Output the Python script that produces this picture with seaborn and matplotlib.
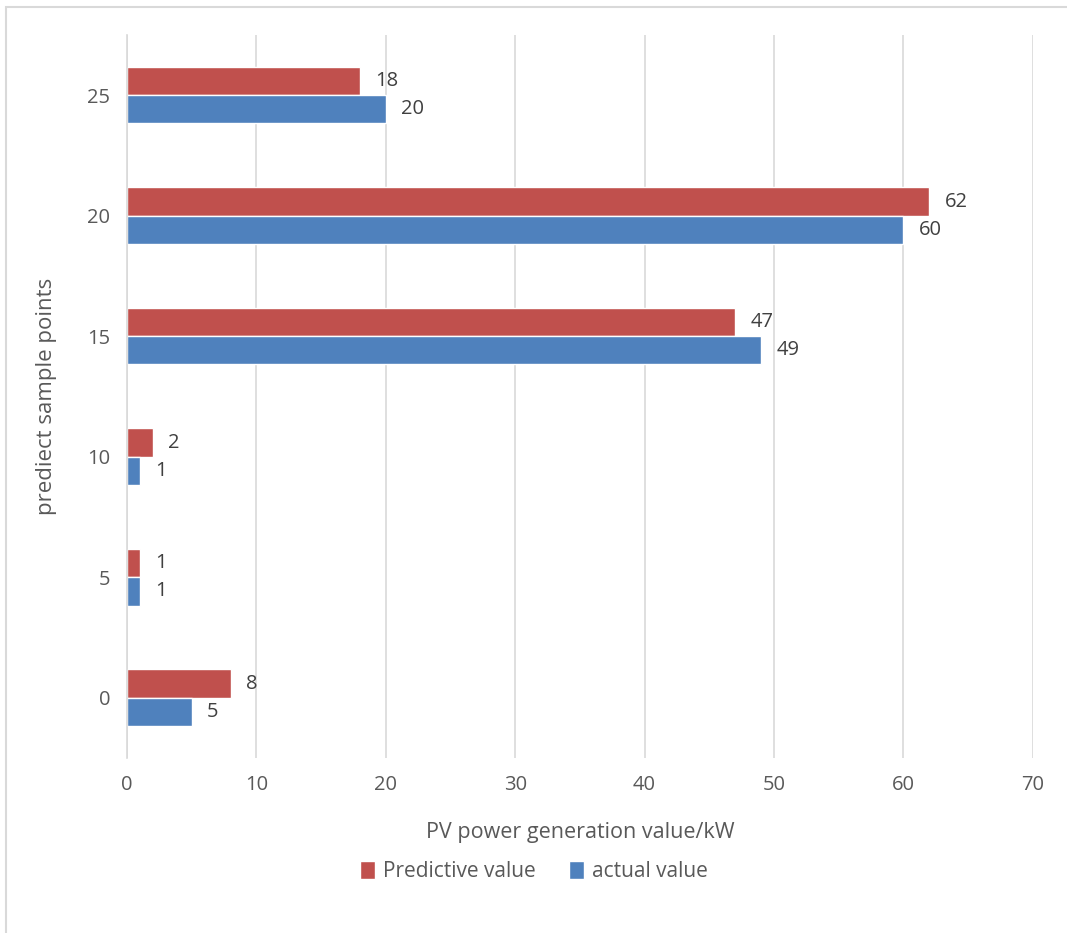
import matplotlib
matplotlib.use("Agg")
import matplotlib.pyplot as plt
import seaborn as sns
import pandas as pd
from matplotlib.patches import Rectangle

categories = ["25", "20", "15", "10", "5", "0"]
predictive = [18, 62, 47, 2, 1, 8]
actual = [20, 60, 49, 1, 1, 5]
series_names = ["Predictive value", "actual value"]
colors = ["#C0504D", "#4F81BD"]
x_ticks = [0, 10, 20, 30, 40, 50, 60, 70]

df = pd.DataFrame({
    "cat": categories * 2,
    "value": predictive + actual,
    "series": [series_names[0]] * len(categories) + [series_names[1]] * len(categories),
})

sns.set_theme(style="white")
plt.rcParams["font.family"] = ["Open Sans", "DejaVu Sans"]

fig = plt.figure(figsize=(10.67, 9.33), dpi=100)
ax = fig.add_axes([0.119, 0.1876, 0.849, 0.775])

sns.barplot(data=df, y="cat", x="value", hue="series", order=categories,
            hue_order=series_names, palette=colors, orient="h", width=0.47,
            saturation=1, ax=ax, legend=True)

ax.set_xlim(0, 70)
ax.set_ylim(5.5, -0.5)
ax.set_xticks(x_ticks)
ax.xaxis.grid(True, color="#D9D9D9", linewidth=1.2)
ax.set_axisbelow(True)
for s in ["top", "right", "bottom"]:
    ax.spines[s].set_visible(False)
ax.spines["left"].set_color("#D9D9D9")
ax.spines["left"].set_linewidth(1.2)
ax.tick_params(axis="both", colors="#595959", labelsize=14.5, length=0)
ax.tick_params(axis="x", pad=12)
ax.tick_params(axis="y", pad=12)

for cont in ax.containers:
    ax.bar_label(cont, labels=[f"{v:g}" for v in cont.datavalues], padding=11,
                 fontsize=14.5, color="#404040")

ax.set_xlabel("PV power generation value/kW", fontsize=15.5, color="#595959", labelpad=20)
ax.set_ylabel("prediect sample points", fontsize=16, color="#595959", labelpad=22)

handles, labels = ax.get_legend_handles_labels()
ax.get_legend().remove()
fig.legend(handles, labels, loc="center", bbox_to_anchor=(0.5, 0.066), ncol=2,
           frameon=False, fontsize=15, handlelength=0.75, handleheight=1.0,
           handletextpad=0.35, columnspacing=1.6, labelcolor="#595959")

fig.patches.append(Rectangle((6 / 1067, -0.05), 1.1, 1 - 7 / 933 + 0.05,
                             transform=fig.transFigure, fill=False,
                             edgecolor="#D9D9D9", linewidth=1.5))

fig.savefig("out.png", dpi=100)
